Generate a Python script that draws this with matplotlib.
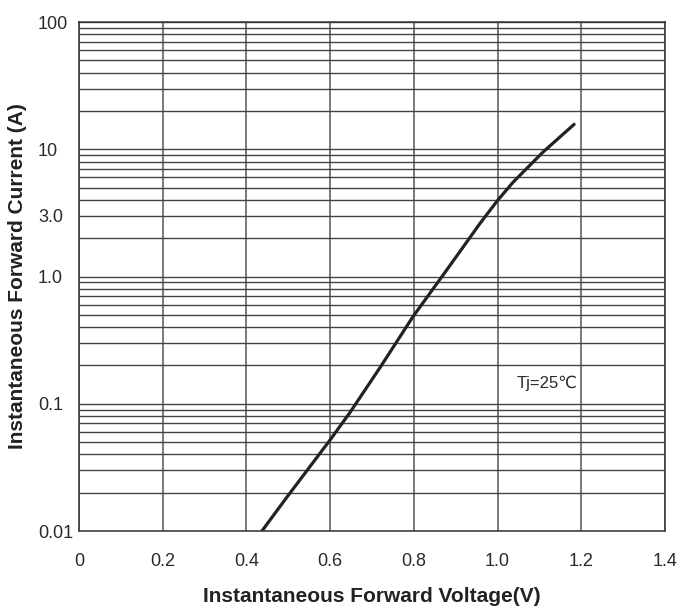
import matplotlib.pyplot as plt
import numpy as np
from matplotlib.ticker import LogLocator, NullFormatter

voltage = [0.437, 0.497, 0.600, 0.647, 0.719, 0.798, 0.862, 0.879, 0.958, 1.000, 1.037, 1.108, 1.183]
current = [0.01, 0.0185, 0.052, 0.085, 0.192, 0.484, 0.946, 1.13, 2.61, 3.96, 5.5, 9.46, 15.7]

x_ticks = [0, 0.2, 0.4, 0.6, 0.8, 1.0, 1.2, 1.4]
x_labels = ["0", "0.2", "0.4", "0.6", "0.8", "1.0", "1.2", "1.4"]
y_ticks = [0.01, 0.1, 1, 3, 10, 100]
y_labels = ["0.01", "0.1", "1.0", "3.0", "10", "100"]

plt.rcParams["font.family"] = ["Liberation Sans", "DejaVu Sans"]

fig = plt.figure(figsize=(6.82, 6.08), dpi=100)
ax = fig.add_axes([0.1158, 0.1266, 0.8592, 0.8372])

ax.set_yscale("log")
ax.set_xlim(0, 1.4)
ax.set_ylim(0.01, 100)

ax.set_xticks(x_ticks)
ax.set_xticklabels(x_labels)
ax.set_yticks(y_ticks)
ax.set_yticklabels(y_labels)
ax.yaxis.set_minor_locator(LogLocator(base=10, subs=np.arange(2, 10)))
ax.yaxis.set_minor_formatter(NullFormatter())
ax.tick_params(which="both", length=0, labelsize=13, colors="#2a2a2a")
ax.tick_params(axis="x", pad=16)
ax.tick_params(axis="y", pad=29.5)
for lab in ax.get_yticklabels():
    lab.set_horizontalalignment("left")

ax.grid(True, which="major", axis="x", color="#555555", linewidth=1.1)
ax.grid(True, which="both", axis="y", color="#444444", linewidth=1.0)
for spine in ax.spines.values():
    spine.set_color("#333333")
    spine.set_linewidth(1.1)

ax.plot(voltage, current, color="#222222", linewidth=2.3,
        solid_capstyle="round", solid_joinstyle="round")

ax.text(1.046, 0.146, "Tj=25℃", fontsize=12, color="#2a2a2a", va="center")

ax.set_xlabel("Instantaneous Forward Voltage(V)", fontsize=15, fontweight="bold",
              color="#222222", labelpad=12)
ax.set_ylabel("Instantaneous Forward Current (A)", fontsize=15, fontweight="bold",
              color="#222222", labelpad=8)

fig.savefig("out.png", dpi=100)
plt.close(fig)
